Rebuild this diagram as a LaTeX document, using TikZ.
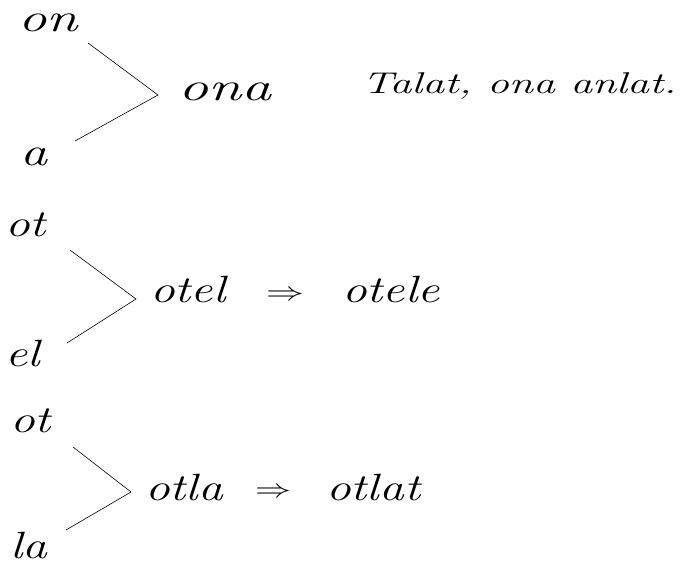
\documentclass[tikz,border=0pt]{standalone}
\begin{document}
\begin{tikzpicture}[x=1pt,y=-1pt,
  big/.style={inner sep=0pt,anchor=base west,font=\fontsize{40}{40}\selectfont\itshape},
  mid/.style={inner sep=0pt,anchor=base west,font=\fontsize{38}{38}\selectfont\itshape},
  small/.style={inner sep=0pt,anchor=base west,font=\fontsize{30}{30}\selectfont\itshape},
  arr/.style={inner sep=0pt,anchor=center},
  joinline/.style={draw,line width=0.6pt}]
\useasboundingbox (0,0) rectangle (683,565);
% group 1
\node[big] (on) at (18,31) {\scalebox{1.42}[1]{on}};
\node[big] (a1) at (20,165) {\scalebox{1.35}[1]{a}};
\coordinate (t1) at (88,43);
\coordinate (b1) at (75,141);
\coordinate (v1) at (158,95);
\draw[joinline] (t1) -- (v1) -- (b1);
\node[big] (ona) at (178,100) {\scalebox{1.5}[1]{ona}};
\node[small] (sent) at (362,93) {\scalebox{1.46}[1]{Talat, ona anlat.}};
% group 2
\node[mid] (ot2) at (5,236) {\scalebox{1.3}[1]{ot}};
\node[mid] (el) at (5,366) {\scalebox{1.3}[1]{el}};
\coordinate (t2) at (70,250);
\coordinate (b2) at (67,343);
\coordinate (v2) at (136,299);
\draw[joinline] (t2) -- (v2) -- (b2);
\node[mid] (otel) at (150,302) {\scalebox{1.3}[1]{otel}};
\node[arr] (a2) at (285,296) {\scalebox{3.8}[2.6]{$\Rightarrow$}};
\node[mid] (otele) at (342,302) {\scalebox{1.3}[1]{otele}};
% group 3
\node[mid] (ot3) at (10,432) {\scalebox{1.3}[1]{ot}};
\node[mid] (la) at (10,558) {\scalebox{1.3}[1]{la}};
\coordinate (t3) at (73,447);
\coordinate (b3) at (66,530);
\coordinate (v3) at (131,492);
\draw[joinline] (t3) -- (v3) -- (b3);
\node[mid] (otla) at (145,500) {\scalebox{1.3}[1]{otla}};
\node[arr] (a3) at (273,493) {\scalebox{3.6}[2.6]{$\Rightarrow$}};
\node[mid] (otlat) at (326,500) {\scalebox{1.3}[1]{otlat}};
\end{tikzpicture}
\end{document}
